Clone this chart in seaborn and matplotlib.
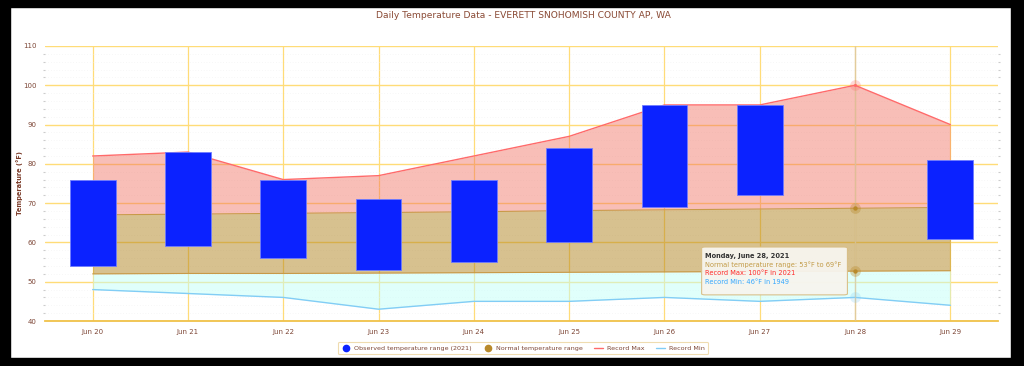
import numpy as np
import pandas as pd
import seaborn as sns
import matplotlib
matplotlib.use("Agg")
import matplotlib.pyplot as plt
from matplotlib.lines import Line2D
from matplotlib.patches import Rectangle, FancyBboxPatch

# ---------------- data ----------------
days = ["Jun 20", "Jun 21", "Jun 22", "Jun 23", "Jun 24",
        "Jun 25", "Jun 26", "Jun 27", "Jun 28", "Jun 29"]
obs_low = [54, 59, 56, 53, 55, 60, 69, 72, np.nan, 61]
obs_high = [76, 83, 76, 71, 76, 84, 95, 95, np.nan, 81]
normal_low = [52.0, 52.1, 52.1, 52.2, 52.3, 52.4, 52.5, 52.6, 52.7, 52.8]
normal_high = [67.0, 67.2, 67.4, 67.6, 67.8, 68.1, 68.3, 68.5, 68.7, 68.9]
record_max = [82, 83, 76, 77, 82, 87, 95, 95, 100, 90]
record_min = [48, 47, 46, 43, 45, 45, 46, 45, 46, 44]
yticks = [40, 50, 60, 70, 80, 90, 100, 110]
hover_day = "Jun 28"
tooltip_lines = ["Monday, June 28, 2021",
                 "Normal temperature range: 53\u00b0F to 69\u00b0F",
                 "Record Max: 100\u00b0F in 2021",
                 "Record Min: 46\u00b0F in 1949"]
title = "Daily Temperature Data - EVERETT SNOHOMISH COUNTY AP, WA"
ylabel = "Temperature (\u00b0F)"
legend_labels = ["Observed temperature range (2021)", "Normal temperature range",
                 "Record Max", "Record Min"]

df = pd.DataFrame({"day": days, "pos": np.arange(len(days)),
                   "obs_low": obs_low, "obs_high": obs_high,
                   "normal_low": normal_low, "normal_high": normal_high,
                   "record_max": record_max, "record_min": record_min})

# ---------------- style ----------------
sns.set_theme(style="white")
plt.rcParams["font.family"] = ["DejaVu Sans"]

BROWN = "#7d4636"
GRID = "#ffdc78"
BLUE_BAR = "#0b22ff"
RED = "#ff6a6a"
CYAN = "#82cdf5"
TAN = "#b8892a"

fig = plt.figure(figsize=(10.24, 3.66), dpi=100)
fig.patch.set_facecolor("white")
ax = fig.add_axes([45 / 1024, 1 - 321 / 366, 953 / 1024, 275 / 366])
ax.set_facecolor("white")

# grid
ax.set_ylim(40, 110)
ax.set_xlim(-0.5, len(days) - 0.5)
ax.set_yticks(yticks)
ax.set_yticks(np.arange(40, 111, 2), minor=True)
ax.set_xticks(df["pos"])
ax.set_xticklabels(days)
ax.yaxis.grid(True, which="major", color=GRID, lw=1.0, zorder=0)
ax.yaxis.grid(True, which="minor", color="#f0f0f0", lw=0.5, ls=(0, (1, 3)), zorder=0)
ax.xaxis.grid(True, which="major", color=GRID, lw=0.9, zorder=0)
ax.set_axisbelow(True)
for s in ["top", "left", "right"]:
    ax.spines[s].set_visible(False)
ax.spines["bottom"].set_color("#f0c24a")
ax.spines["bottom"].set_linewidth(1.3)
ax.tick_params(axis="both", which="major", length=0, labelsize=5.0, labelcolor=BROWN, pad=6)
ax.tick_params(axis="y", which="minor", length=1.2, color="#cccccc", width=0.8,
               left=True, right=True)
ax.tick_params(axis="x", which="major", pad=6)

# bands
x = df["pos"].values
ax.fill_between(x, df["normal_high"], df["record_max"], color="#f07060", alpha=0.45, lw=0, zorder=1)
ax.fill_between(x, df["normal_low"], df["normal_high"], color="#b08420", alpha=0.5, lw=0, zorder=1)
ax.fill_between(x, df["record_min"], df["normal_low"], color="#c2fff9", alpha=0.5, lw=0, zorder=1)
ax.plot(x, df["normal_high"], color="#c89a48", lw=0.8, zorder=2)
ax.plot(x, df["normal_low"], color="#c89a48", lw=0.8, zorder=2)

# record lines
sns.lineplot(data=df, x="pos", y="record_max", color=RED, lw=1.0, ax=ax, zorder=3)
sns.lineplot(data=df, x="pos", y="record_min", color=CYAN, lw=1.0, ax=ax, zorder=3)

# observed bars
ax.bar(x, df["obs_high"] - df["obs_low"], bottom=df["obs_low"], width=0.48,
       color=BLUE_BAR, edgecolor="#6f7cff", linewidth=0.6, zorder=4)

# hover crosshair and markers
hi = days.index(hover_day)
ax.axvline(hi, color="#d6c6aa", lw=1.0, alpha=0.7, zorder=3.5)
ax.scatter([hi], [record_max[hi]], s=60, color=RED, alpha=0.25, lw=0, zorder=5)
ax.scatter([hi], [record_max[hi]], s=5, color=RED, lw=0, zorder=5)
ax.scatter([hi], [record_min[hi]], s=60, color=CYAN, alpha=0.25, lw=0, zorder=5)
for v in (normal_high[hi], normal_low[hi]):
    ax.scatter([hi], [v], s=60, color=TAN, alpha=0.35, lw=0, zorder=5)
    ax.scatter([hi], [v], s=10, color=TAN, lw=0, zorder=5)

ax.set_xlabel("")
ax.set_ylabel("")

# tooltip
tip = FancyBboxPatch((0.689, 0.095), 0.153, 0.174, boxstyle="round,pad=0,rounding_size=0.004",
                     transform=ax.transAxes, facecolor="#f7f5ef", edgecolor="#d8be86",
                     lw=0.8, alpha=0.95, zorder=6)
ax.add_patch(tip)
tcolors = ["#333333", "#c29b47", "#ff2a2a", "#35a8ff"]
tys = [0.237, 0.205, 0.173, 0.141]
for line, c, yy in zip(tooltip_lines, tcolors, tys):
    ax.text(0.693, yy, line, transform=ax.transAxes, fontsize=4.8, color=c,
            fontweight="bold" if c == "#333333" else "normal", va="center", ha="left", zorder=7)

# title and y label
fig.text(523 / 1024, 1 - 16 / 366, title, ha="center", va="center", fontsize=6.6, color="#8a4a35")
fig.text(20 / 1024, 1 - 183 / 366, ylabel, ha="center", va="center", rotation=90,
         fontsize=4.8, fontweight="bold", color="#7a3a28")

# legend
handles = [Line2D([], [], marker="o", ls="", color=BLUE_BAR, markersize=4.5),
           Line2D([], [], marker="o", ls="", color=TAN, markersize=4.5),
           Line2D([], [], color=RED, lw=1.0),
           Line2D([], [], color=CYAN, lw=1.0)]
leg = fig.legend(handles, legend_labels, loc="center", bbox_to_anchor=(523 / 1024, 1 - 348 / 366),
                 ncol=4, fontsize=4.6, frameon=True, handlelength=1.4, handletextpad=0.6,
                 columnspacing=1.8, borderpad=0.5, fancybox=True)
for t in leg.get_texts():
    t.set_color(BROWN)
leg.get_frame().set_edgecolor("#ecd49c")
leg.get_frame().set_linewidth(0.8)

# outer black frame
fig.patches.append(Rectangle((0, 0), 10 / 1024, 1, transform=fig.transFigure, color="black", zorder=10))
fig.patches.append(Rectangle((0, 1 - 7 / 366), 1, 7 / 366, transform=fig.transFigure, color="black", zorder=10))
fig.patches.append(Rectangle((1011 / 1024, 0), 13 / 1024, 1, transform=fig.transFigure, color="black", zorder=10))
fig.patches.append(Rectangle((0, 0), 1, 8 / 366, transform=fig.transFigure, color="black", zorder=10))

fig.savefig("out.png", dpi=100, facecolor="white")
